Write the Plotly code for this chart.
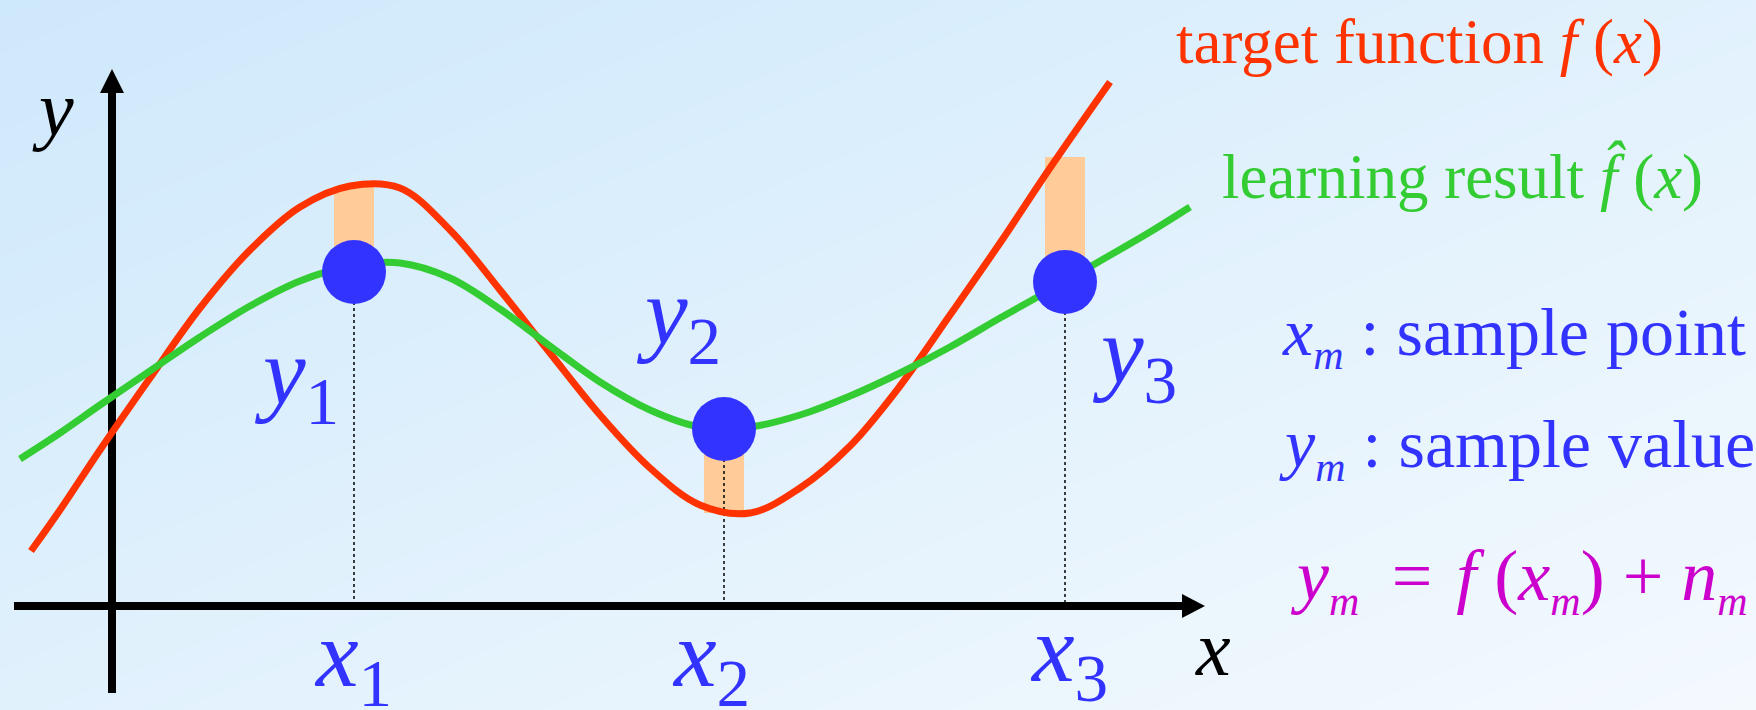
import plotly.graph_objects as go

W, H = 1756, 710

# ---- data (pixel space of the slide) ----
target_x = [31, 60, 100, 150, 200, 250, 300, 350, 400, 450, 500, 550, 600, 650, 700, 750, 800, 850, 900, 950, 1000, 1050, 1110]
target_y = [551, 510, 450, 378, 308, 250, 207, 186, 188, 230, 290, 353, 415, 468, 505, 513, 488, 446, 386, 315, 243, 168, 82]

learned_x = [20, 60, 100, 150, 200, 250, 300, 350, 400, 450, 500, 550, 600, 650, 700, 750, 800, 850, 900, 950, 1000, 1050, 1100, 1150, 1190]
learned_y = [459, 433, 405, 371, 337, 306, 281, 266, 263, 278, 309, 346, 382, 410, 427, 427, 415, 396, 373, 347, 318, 290, 261, 232, 207]

sample_x = [354, 724, 1065]
sample_y = [272, 429, 282]
target_at_sample = [186, 513, 157]

sample_labels = ["<i>y</i><sub>1</sub>", "<i>y</i><sub>2</sub>", "<i>y</i><sub>3</sub>"]
point_labels = ["<i>x</i><sub>1</sub>", "<i>x</i><sub>2</sub>", "<i>x</i><sub>3</sub>"]

# axes of the diagram
x_axis_y = 606
x_axis_start, x_axis_head, x_axis_tip = 14, 1182, 1205
y_axis_x = 112
y_axis_bottom, y_axis_head, y_axis_tip = 693, 93, 69
head_half = 12

RED = "#FF3300"
GREEN = "#33CC33"
BLUE = "#3333FF"
PEACH = "#FFCC99"
MAGENTA = "#CC00CC"
FONT = "Liberation Serif"

fig = go.Figure()

# background gradient
fig.add_trace(go.Heatmap(
    x=[-30, W + 30], y=[-30, H + 30], z=[[0, 0.5], [0.5, 1]], zsmooth="best",
    colorscale=[[0, "#CDE8FB"], [1, "#F5FAFE"]], showscale=False, hoverinfo="skip"))

# residual bars
fig.add_trace(go.Bar(
    x=sample_x, base=sample_y,
    y=[t - s for t, s in zip(target_at_sample, sample_y)],
    width=40, marker=dict(color=PEACH, line=dict(width=0)), hoverinfo="skip"))

# dotted drop lines
for sx, sy in zip(sample_x, sample_y):
    fig.add_trace(go.Scatter(x=[sx, sx], y=[sy, x_axis_y], mode="lines",
                             line=dict(color="black", width=1.5, dash="dot"), hoverinfo="skip"))

# axes
fig.add_trace(go.Scatter(x=[x_axis_start, x_axis_head + 2], y=[x_axis_y, x_axis_y], mode="lines",
                         line=dict(color="black", width=8), hoverinfo="skip"))
fig.add_trace(go.Scatter(x=[x_axis_head, x_axis_tip, x_axis_head, x_axis_head],
                         y=[x_axis_y - head_half, x_axis_y, x_axis_y + head_half, x_axis_y - head_half],
                         mode="lines", fill="toself", fillcolor="black", line=dict(color="black", width=0),
                         hoverinfo="skip"))
fig.add_trace(go.Scatter(x=[y_axis_x, y_axis_x], y=[y_axis_bottom, y_axis_head - 2], mode="lines",
                         line=dict(color="black", width=8), hoverinfo="skip"))
fig.add_trace(go.Scatter(x=[y_axis_x - head_half, y_axis_x, y_axis_x + head_half, y_axis_x - head_half],
                         y=[y_axis_head, y_axis_tip, y_axis_head, y_axis_head],
                         mode="lines", fill="toself", fillcolor="black", line=dict(color="black", width=0),
                         hoverinfo="skip"))

# curves
fig.add_trace(go.Scatter(x=target_x, y=target_y, mode="lines",
                         line=dict(color=RED, width=7, shape="spline", smoothing=1), hoverinfo="skip"))
fig.add_trace(go.Scatter(x=learned_x, y=learned_y, mode="lines",
                         line=dict(color=GREEN, width=7, shape="spline", smoothing=1), hoverinfo="skip"))

# samples
fig.add_trace(go.Scatter(x=sample_x, y=sample_y, mode="markers",
                         marker=dict(color=BLUE, size=64, line=dict(width=0)), hoverinfo="skip"))

ann = []
def add(text, x, y, size, color, xanchor="left", yanchor="middle"):
    ann.append(dict(text=text, x=x, y=y, xref="x", yref="y", showarrow=False,
                    xanchor=xanchor, yanchor=yanchor,
                    font=dict(family=FONT, size=size, color=color)))

add("<i>y</i>", 30, 108, 78, "black")
add("<i>x</i>", 1193, 648, 78, "black")

label_pos_y = [(252, 378), (634, 318), (1090, 357)]
for (lx, ly), t in zip(label_pos_y, sample_labels):
    add(t, lx, ly, 96, BLUE)
label_pos_x = [(312, 660), (670, 660), (1028, 655)]
for (lx, ly), t in zip(label_pos_x, point_labels):
    add(t, lx, ly, 96, BLUE)

SUB = "<sub><span style='font-size:42px'><i>m</i></span></sub>"
add("target function <i>f</i> (<i>x</i>)", 1174, 42, 63, RED)
add("learning result <i>f\u0302</i> (<i>x</i>)", 1220, 176, 63, GREEN)
add("<i>x</i>" + SUB + " : sample point", 1280, 336, 68, BLUE)
add("<i>y</i>" + SUB + " : sample value", 1277, 448, 68, BLUE)
add("<i>y</i>" + SUB + "\u2009 = \u200a<i>f</i> (<i>x</i>" + SUB + ") + <i>n</i>" + SUB,
    1288, 580, 72, MAGENTA)

fig.update_layout(
    width=W, height=H, margin=dict(l=0, r=0, t=0, b=0),
    paper_bgcolor="#E6F4FD", plot_bgcolor="rgba(0,0,0,0)",
    showlegend=False, barmode="overlay",
    xaxis=dict(range=[0, W], visible=False, fixedrange=True),
    yaxis=dict(range=[H, 0], visible=False, fixedrange=True),
    annotations=ann,
)

fig.write_html("out.html", config={"displayModeBar": False},
               post_script="document.body.style.margin='0';")
